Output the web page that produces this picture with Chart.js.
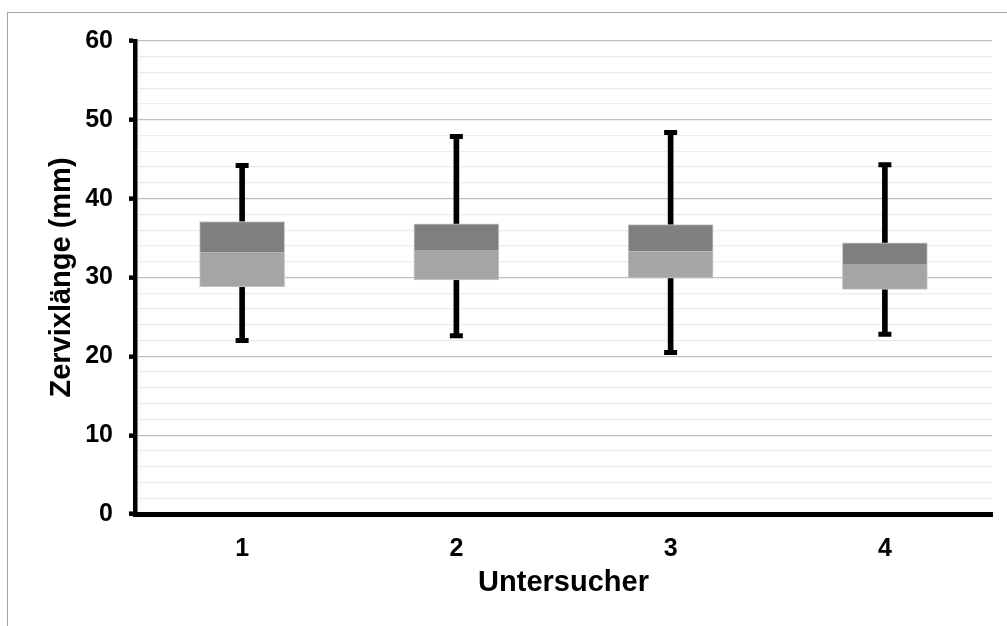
<!DOCTYPE html>
<html>
<head>
<meta charset="utf-8">
<script src="https://cdn.jsdelivr.net/npm/chart.js@4"></script>
<style>
  html, body { margin: 0; padding: 0; background: #fff; }
  #wrap { position: absolute; left: 0; top: 0; width: 1007px; height: 626px; }
  #frame { position: absolute; left: 7px; top: 12px; width: 1000px; height: 614px;
           border-left: 1.5px solid #a6a6a6; border-top: 1.5px solid #a6a6a6; box-sizing: border-box; }
</style>
</head>
<body>
<div id="frame"></div>
<div id="wrap"><canvas id="c"></canvas></div>
<script>
const categories = ['1', '2', '3', '4'];
const whiskerMin = [22.0, 22.6, 20.5, 22.8];
const q1 = [28.8, 29.7, 29.9, 28.5];
const median = [33.2, 33.5, 33.3, 31.7];
const q3 = [37.1, 36.8, 36.7, 34.4];
const whiskerMax = [44.2, 47.9, 48.4, 44.3];
const yTitle = 'Zervixlänge (mm)';
const xTitle = 'Untersucher';

const FONT = "'Liberation Sans', Arial, sans-serif";

const lowerBox = q1.map((v, i) => [v, median[i]]);
const upperBox = median.map((v, i) => [v, q3[i]]);
const lowerWhisker = whiskerMin.map((v, i) => [v, q1[i]]);
const upperWhisker = q3.map((v, i) => [v, whiskerMax[i]]);

new Chart(document.getElementById('c'), {
  data: {
    labels: categories,
    datasets: [
      { type: 'bar', data: upperBox, backgroundColor: '#7f7f7f', borderColor: '#c8c8c8',
        borderWidth: 1, borderSkipped: 'bottom', barThickness: 85, grouped: false },
      { type: 'bar', data: lowerBox, backgroundColor: '#a5a5a5', borderColor: '#c8c8c8',
        borderWidth: 1, borderSkipped: 'top', barThickness: 85, grouped: false },
      { type: 'line', data: whiskerMax, showLine: false, pointStyle: 'line', pointRadius: 6.5,
        pointBorderWidth: 5, pointBorderColor: '#000', pointBackgroundColor: '#000' },
      { type: 'line', data: whiskerMin, showLine: false, pointStyle: 'line', pointRadius: 6.5,
        pointBorderWidth: 5, pointBorderColor: '#000', pointBackgroundColor: '#000' },
      { type: 'bar', data: upperWhisker, backgroundColor: '#000', borderWidth: 0,
        barThickness: 5, grouped: false },
      { type: 'bar', data: lowerWhisker, backgroundColor: '#000', borderWidth: 0,
        barThickness: 5, grouped: false }
    ]
  },
  options: {
    responsive: true,
    maintainAspectRatio: false,
    animation: false,
    events: [],
    layout: { padding: { left: 0, right: 15, top: 41, bottom: 0 } },
    plugins: { legend: { display: false }, tooltip: { enabled: false } },
    scales: {
      x: {
        type: 'category',
        offset: true,
        grid: { display: false },
        border: { display: true, color: '#000', width: 5 },
        ticks: { color: '#000', font: { family: FONT, size: 25, weight: 'bold' }, padding: 12 },
        title: { display: true, text: xTitle, color: '#000',
                 font: { family: FONT, size: 29, weight: 'bold' }, padding: { top: 0, bottom: 26 } },
        afterFit: (s) => { s.height = 112; }
      },
      y: {
        min: 0, max: 60,
        ticks: {
          stepSize: 2, autoSkip: false, color: '#000', padding: 16,
          font: { family: FONT, size: 25, weight: 'bold' },
          callback: (v) => (v % 10 === 0 ? String(v) : '')
        },
        grid: {
          color: (ctx) => (ctx.tick && ctx.tick.value % 10 === 0 ? '#bfbfbf' : '#ececec'),
          lineWidth: 1.3,
          drawTicks: true,
          tickLength: 6,
          tickWidth: 4.5,
          tickColor: (ctx) => (ctx.tick && ctx.tick.value % 10 === 0 ? '#000' : 'rgba(0,0,0,0)')
        },
        border: { display: true, color: '#000', width: 4.5 },
        title: { display: true, text: yTitle, color: '#000',
                 font: { family: FONT, size: 29, weight: 'bold' }, padding: { top: 45, bottom: 0 } },
        afterFit: (s) => { s.width = 135; }
      }
    }
  }
});
</script>
</body>
</html>
